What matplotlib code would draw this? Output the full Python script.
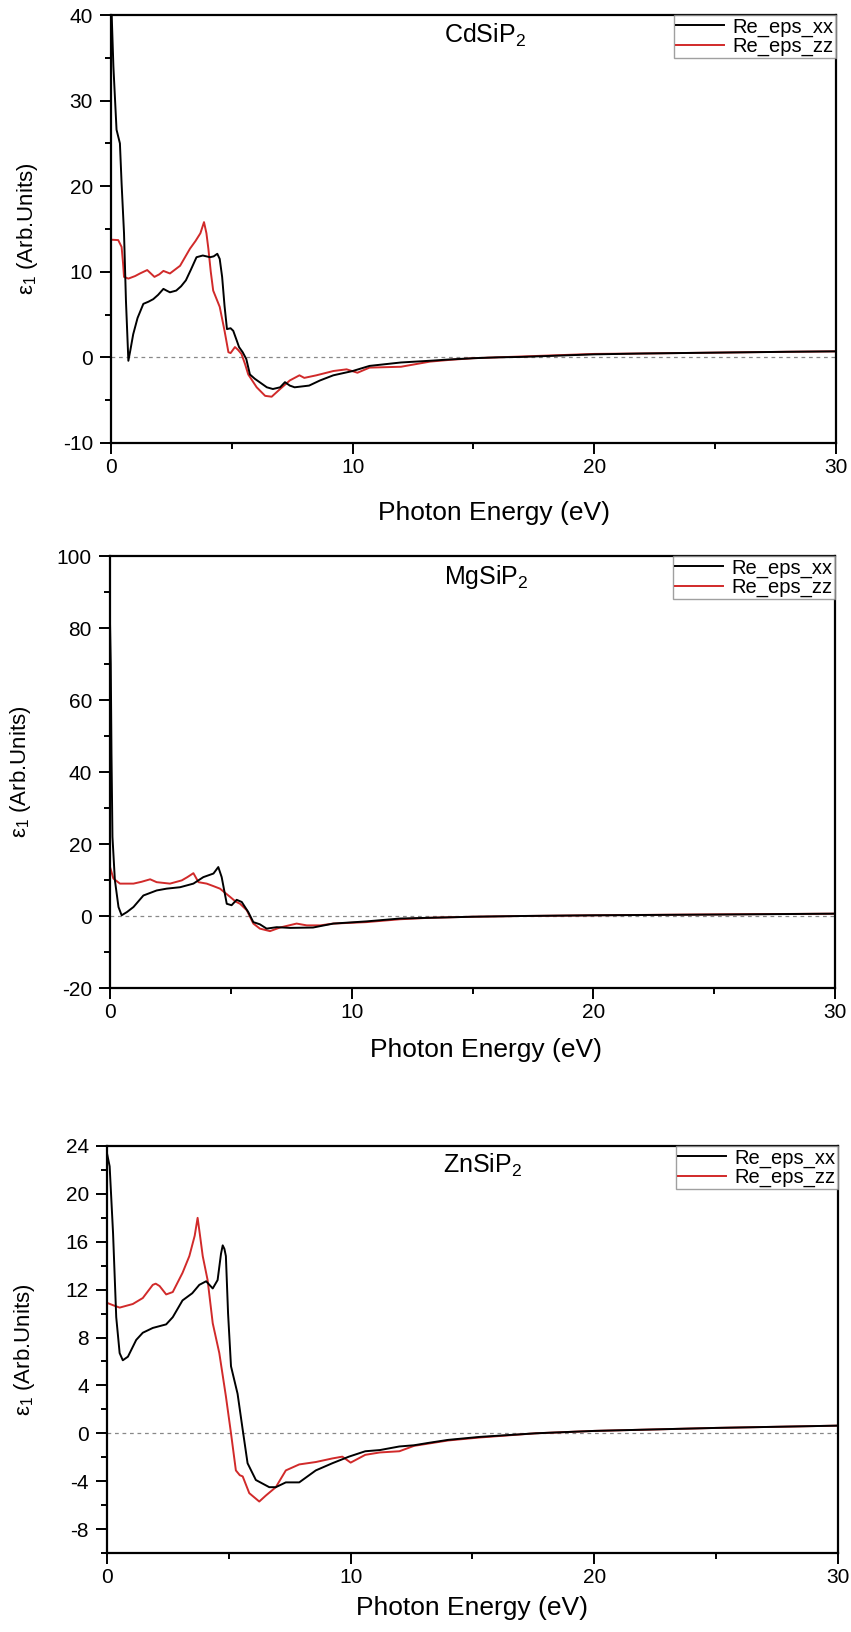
import matplotlib
matplotlib.use("Agg")
import matplotlib.pyplot as plt
from matplotlib.ticker import MultipleLocator

plt.rcParams["font.family"] = ["Liberation Sans", "DejaVu Sans"]
plt.rcParams["mathtext.fontset"] = "custom"
plt.rcParams["mathtext.rm"] = "Liberation Sans"
plt.rcParams["mathtext.it"] = "Liberation Sans:italic"
plt.rcParams["axes.unicode_minus"] = False

# CdSiP2
cd_xx_e = [0.0, 0.03, 0.1, 0.23, 0.37, 0.44, 0.54, 0.62, 0.72, 0.8, 0.92, 1.1, 1.34, 1.55, 1.75, 1.95,
           2.17, 2.3, 2.44, 2.7, 2.9, 3.1, 3.3, 3.54, 3.8, 4.1, 4.25, 4.4, 4.5, 4.6, 4.7, 4.8, 4.95,
           5.06, 5.2, 5.3, 5.45, 5.6, 5.75, 5.95, 6.15, 6.45, 6.7, 7.0, 7.2, 7.4, 7.6, 8.2, 8.65,
           9.2, 10.0, 10.7, 12.0, 13.2, 14.0, 15.0, 16.0, 17.0, 18.0, 20.0, 22.0, 25.0, 28.0, 30.0]
cd_xx_v = [40.5, 40, 34, 26.6, 25, 20.3, 14.5, 6.6, -0.4, 0.8, 2.7, 4.6, 6.25, 6.5, 6.8, 7.3,
           8.0, 7.8, 7.6, 7.8, 8.3, 9.0, 10.2, 11.7, 11.9, 11.7, 11.8, 12.1, 11.5, 9.4, 6.0, 3.3, 3.4,
           3.1, 2.0, 1.2, 0.6, -0.2, -2.0, -2.5, -2.9, -3.5, -3.7, -3.5, -2.9, -3.3, -3.5, -3.3, -2.7,
           -2.1, -1.6, -1.0, -0.6, -0.4, -0.25, -0.1, 0.0, 0.05, 0.15, 0.35, 0.45, 0.55, 0.65, 0.7]
cd_zz_e = [0.0, 0.3, 0.44, 0.5, 0.54, 0.72, 1.0, 1.2, 1.5, 1.65, 1.8, 2.0, 2.17, 2.44, 2.86, 3.27,
           3.5, 3.7, 3.85, 3.95, 4.03, 4.13, 4.23, 4.5, 4.7, 4.86, 4.95, 5.13, 5.25, 5.4, 5.55, 5.68,
           6.03, 6.38, 6.65, 7.0, 7.4, 7.6, 7.8, 8.0, 8.5, 9.2, 9.75, 10.2, 10.7, 12.0, 13.2, 14.0,
           15.0, 16.0, 17.0, 18.0, 20.0, 22.0, 25.0, 28.0, 30.0]
cd_zz_v = [13.75, 13.7, 12.9, 11.0, 9.4, 9.2, 9.5, 9.8, 10.2, 9.8, 9.4, 9.7, 10.1, 9.8, 10.7, 12.7,
           13.6, 14.5, 15.8, 14.5, 12.7, 10.0, 7.8, 5.9, 3.1, 0.6, 0.5, 1.2, 0.9, 0.4, -0.8, -2.0,
           -3.5, -4.5, -4.6, -3.7, -2.7, -2.4, -2.1, -2.4, -2.1, -1.6, -1.4, -1.8, -1.2, -1.1, -0.5, -0.3,
           -0.1, 0.0, 0.1, 0.2, 0.4, 0.45, 0.55, 0.65, 0.7]

# MgSiP2
mg_xx_e = [0.0, 0.03, 0.06, 0.1, 0.2, 0.35, 0.48, 0.7, 0.97, 1.38, 1.93, 2.34, 2.9, 3.45, 3.86, 4.28,
           4.48, 4.62, 4.83, 5.03, 5.24, 5.45, 5.72, 5.93, 6.2, 6.48, 6.9, 7.45, 8.4, 9.24, 10.6, 12.0,
           13.2, 15.0, 17.0, 20.0, 25.0, 30.0]
mg_xx_v = [81, 70, 45, 22, 10, 2.5, 0.2, 1.1, 2.5, 5.7, 7.1, 7.6, 8.0, 9.0, 10.8, 11.8,
           13.6, 10.8, 3.4, 3.0, 4.5, 3.9, 1.1, -1.7, -2.3, -3.5, -3.1, -3.3, -3.2, -2.1, -1.5, -0.7,
           -0.5, -0.2, 0.0, 0.2, 0.4, 0.65]
mg_zz_e = [0.0, 0.14, 0.41, 0.97, 1.3, 1.66, 1.93, 2.48, 2.97, 3.2, 3.45, 3.66, 4.0, 4.28, 4.55, 4.97,
           5.2, 5.38, 5.66, 5.93, 6.2, 6.62, 7.03, 7.72, 8.14, 8.7, 9.24, 10.6, 12.0, 13.2, 15.0, 17.0,
           20.0, 25.0, 30.0]
mg_zz_v = [13.6, 10.4, 9.0, 9.0, 9.5, 10.2, 9.4, 9.0, 9.9, 10.8, 11.9, 9.4, 9.0, 8.3, 7.6, 5.3,
           4.0, 3.4, 1.6, -2.1, -3.5, -4.2, -3.2, -2.1, -2.6, -2.6, -2.1, -1.7, -0.9, -0.5, -0.2, 0.0,
           0.2, 0.45, 0.65]

# ZnSiP2
zn_xx_e = [0.0, 0.11, 0.25, 0.38, 0.52, 0.65, 0.86, 1.2, 1.47, 1.88, 2.43, 2.7, 3.1, 3.5, 3.79, 4.07,
           4.34, 4.54, 4.68, 4.75, 4.82, 4.88, 4.97, 5.09, 5.36, 5.57, 5.77, 6.11, 6.66, 6.93, 7.34,
           7.89, 8.57, 9.25, 9.93, 10.6, 11.2, 12.0, 12.6, 13.2, 14.0, 15.3, 17.6, 20.0, 25.0, 30.0]
zn_xx_v = [23.4, 22.3, 16.7, 9.7, 6.7, 6.1, 6.4, 7.8, 8.4, 8.8, 9.1, 9.7, 11.1, 11.7, 12.4, 12.7,
           12.1, 12.8, 15.0, 15.7, 15.4, 14.8, 10.0, 5.6, 3.3, 0.3, -2.5, -3.9, -4.5, -4.5, -4.1,
           -4.1, -3.1, -2.5, -1.95, -1.5, -1.4, -1.1, -1.0, -0.8, -0.55, -0.3, 0.0, 0.2, 0.45, 0.64]
zn_zz_e = [0.0, 0.25, 0.52, 1.06, 1.47, 1.88, 2.0, 2.16, 2.43, 2.7, 3.1, 3.38, 3.6, 3.72, 3.82, 3.93,
           4.13, 4.34, 4.61, 4.88, 5.09, 5.29, 5.45, 5.57, 5.84, 6.25, 6.52, 6.93, 7.34, 7.89, 8.57,
           9.25, 9.66, 10.0, 10.6, 11.2, 12.0, 12.6, 14.0, 15.3, 17.6, 20.0, 25.0, 30.0]
zn_zz_v = [10.9, 10.7, 10.5, 10.8, 11.3, 12.4, 12.5, 12.3, 11.6, 11.8, 13.4, 14.8, 16.5, 18.0, 16.5, 14.8,
           12.8, 9.2, 6.7, 3.1, 0.0, -3.1, -3.5, -3.6, -5.0, -5.7, -5.2, -4.5, -3.1, -2.6, -2.4,
           -2.1, -1.95, -2.45, -1.8, -1.6, -1.5, -1.05, -0.6, -0.35, 0.0, 0.2, 0.45, 0.64]

labels = ["Re_eps_xx", "Re_eps_zz"]
RED = "#d12a2a"


def panel(fig, rect, name, xx, zz, ylim, ymajor, yminor, xlab_pos, ylab_x):
    ax = fig.add_axes(rect)
    ax.axhline(0, color="#888888", lw=0.9, ls=(0, (3, 3)), zorder=1)
    ax.plot(xx[0], xx[1], color="black", lw=1.4, label=labels[0], zorder=3)
    ax.plot(zz[0], zz[1], color=RED, lw=1.4, label=labels[1], zorder=2)
    ax.set_xlim(0, 30)
    ax.set_ylim(*ylim)
    ax.xaxis.set_major_locator(MultipleLocator(10))
    ax.xaxis.set_minor_locator(MultipleLocator(5))
    ax.yaxis.set_major_locator(MultipleLocator(ymajor))
    ax.yaxis.set_minor_locator(MultipleLocator(yminor))
    ax.tick_params(which="major", direction="out", length=8, width=1.4, labelsize=15)
    ax.tick_params(which="minor", direction="out", length=4.5, width=1.4)
    ax.tick_params(axis="x", which="major", pad=3)
    ax.tick_params(axis="y", which="major", pad=5)
    for s in ax.spines.values():
        s.set_linewidth(1.6)
    ax.set_xlabel("Photon Energy (eV)", fontsize=19)
    ax.xaxis.set_label_coords(*xlab_pos)
    ax.set_ylabel("ε$_1$ (Arb.Units)", fontsize=16)
    ax.yaxis.set_label_coords(ylab_x, 0.5)
    ax.text(0.46, 0.985, name, transform=ax.transAxes, ha="left", va="top", fontsize=18)
    leg = ax.legend(loc="upper right", borderaxespad=0, fontsize=14.5, handlelength=2.4,
                    handletextpad=0.4, labelspacing=0.0, borderpad=0.12, fancybox=False)
    leg.get_frame().set_edgecolor("#888888")
    leg.get_frame().set_linewidth(1.0)
    return ax


fig = plt.figure(figsize=(8.51, 16.32), dpi=100)

panel(fig, [0.1304, 0.7286, 0.8519, 0.2622], "CdSiP$_2$",
      (cd_xx_e, cd_xx_v), (cd_zz_e, cd_zz_v), (-10, 40), 10, 5, (0.528, -0.135), -0.098)
panel(fig, [0.1293, 0.3946, 0.8519, 0.2647], "MgSiP$_2$",
      (mg_xx_e, mg_xx_v), (mg_zz_e, mg_zz_v), (-20, 100), 20, 10, (0.519, -0.115), -0.106)
panel(fig, [0.1257, 0.0484, 0.8590, 0.2494], "ZnSiP$_2$",
      (zn_xx_e, zn_xx_v), (zn_zz_e, zn_zz_v), (-10, 24), 4, 2, (0.5, -0.105), -0.096)

fig.savefig("out.png", dpi=100)
